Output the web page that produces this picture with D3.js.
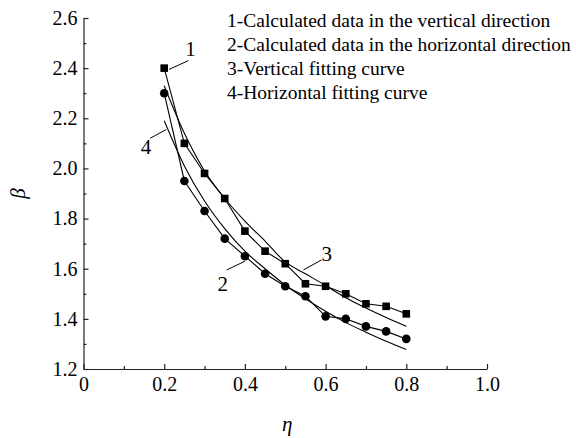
<!DOCTYPE html>
<html>
<head>
<meta charset="utf-8">
<script src="https://cdn.jsdelivr.net/npm/d3@7"></script>
<style>
  body { margin: 0; background: #fff; }
  text { font-family: "Liberation Serif", "Times New Roman", serif; fill: #000; }
</style>
</head>
<body>
<div id="chart"></div>
<script>
// eta values of the calculated points
var eta = [0.2, 0.25, 0.3, 0.35, 0.4, 0.45, 0.5, 0.55, 0.6, 0.65, 0.7, 0.75, 0.8];
// 1 - calculated data, vertical direction (squares)
var betaVertical = [2.40, 2.10, 1.98, 1.88, 1.75, 1.67, 1.62, 1.54, 1.53, 1.50, 1.46, 1.45, 1.42];
// 2 - calculated data, horizontal direction (circles)
var betaHorizontal = [2.30, 1.95, 1.83, 1.72, 1.65, 1.58, 1.53, 1.49, 1.41, 1.40, 1.37, 1.35, 1.32];
// 3 - vertical fitting curve
var fitVertical = [2.33, 2.14, 1.99, 1.88, 1.79, 1.71, 1.627, 1.58, 1.533, 1.484, 1.443, 1.405, 1.37];
// 4 - horizontal fitting curve
var fitHorizontal = [2.19, 2.01, 1.87, 1.76, 1.67, 1.60, 1.535, 1.48, 1.43, 1.385, 1.347, 1.311, 1.278];

var xTicks = [0, 0.2, 0.4, 0.6, 0.8, 1.0];
var xTickLabels = ["0", "0.2", "0.4", "0.6", "0.8", "1.0"];
var yTicks = [1.2, 1.4, 1.6, 1.8, 2.0, 2.2, 2.4, 2.6];
var yTickLabels = ["1.2", "1.4", "1.6", "1.8", "2.0", "2.2", "2.4", "2.6"];

var legendLines = [
  "1-Calculated data in the vertical direction",
  "2-Calculated data in the horizontal direction",
  "3-Vertical fitting curve",
  "4-Horizontal fitting curve"
];

var margin = {top: 18, right: 89, bottom: 69, left: 83.5},
    width = 576 - margin.left - margin.right,
    height = 438 - margin.top - margin.bottom;

var svg = d3.select("#chart")
  .append("svg")
    .attr("width", 576)
    .attr("height", 438)
  .append("g")
    .attr("transform", "translate(" + margin.left + "," + margin.top + ")");

var x = d3.scaleLinear().domain([0, 1.0]).range([0, width]);
var y = d3.scaleLinear().domain([1.2, 2.6]).range([height, 0]);

// minor ticks
svg.append("g")
  .attr("transform", "translate(0," + height + ")")
  .call(d3.axisBottom(x).tickValues([0.1, 0.3, 0.5, 0.7, 0.9]).tickSize(-3).tickFormat(""))
  .call(function(g) { g.select(".domain").remove(); });
svg.append("g")
  .call(d3.axisLeft(y).tickValues([1.3, 1.5, 1.7, 1.9, 2.1, 2.3, 2.5]).tickSize(-3).tickFormat(""))
  .call(function(g) { g.select(".domain").remove(); });

// major axes
svg.append("g")
  .attr("transform", "translate(0," + height + ")")
  .call(d3.axisBottom(x).tickValues(xTicks).tickSize(-5).tickSizeOuter(0).tickPadding(8)
    .tickFormat(function(d, i) { return xTickLabels[i]; }));
svg.append("g")
  .call(d3.axisLeft(y).tickValues(yTicks).tickSize(-5).tickSizeOuter(0).tickPadding(6)
    .tickFormat(function(d, i) { return yTickLabels[i]; }));

svg.selectAll(".tick text").style("font-size", "20px");
svg.selectAll(".domain, .tick line").attr("stroke", "#222").attr("stroke-width", 1.2);

// axis titles
svg.append("text")
  .attr("x", width / 2 + 2)
  .attr("y", height + 62)
  .attr("text-anchor", "middle")
  .style("font-size", "21px")
  .style("font-style", "italic")
  .text("η");
svg.append("text")
  .attr("transform", "translate(" + (-59) + "," + (height / 2) + ") rotate(-90)")
  .attr("text-anchor", "middle")
  .style("font-size", "21px")
  .style("font-style", "italic")
  .text("β");

var dataV = eta.map(function(e, i) { return [e, betaVertical[i]]; });
var dataH = eta.map(function(e, i) { return [e, betaHorizontal[i]]; });
var curveV = eta.map(function(e, i) { return [e, fitVertical[i]]; });
var curveH = eta.map(function(e, i) { return [e, fitHorizontal[i]]; });

var straight = d3.line()
  .x(function(d) { return x(d[0]); })
  .y(function(d) { return y(d[1]); });
var smooth = d3.line()
  .x(function(d) { return x(d[0]); })
  .y(function(d) { return y(d[1]); })
  .curve(d3.curveMonotoneX);

[curveV, curveH].forEach(function(c) {
  svg.append("path")
    .attr("d", smooth(c))
    .attr("fill", "none")
    .attr("stroke", "#000")
    .attr("stroke-width", 1.1);
});
[dataV, dataH].forEach(function(c) {
  svg.append("path")
    .attr("d", straight(c))
    .attr("fill", "none")
    .attr("stroke", "#000")
    .attr("stroke-width", 1.1);
});

svg.append("g")
  .selectAll("rect")
  .data(dataV)
  .enter()
  .append("rect")
    .attr("x", function(d) { return x(d[0]) - 3.8; })
    .attr("y", function(d) { return y(d[1]) - 3.8; })
    .attr("width", 7.6)
    .attr("height", 7.6)
    .style("fill", "#000");

svg.append("g")
  .selectAll("circle")
  .data(dataH)
  .enter()
  .append("circle")
    .attr("cx", function(d) { return x(d[0]); })
    .attr("cy", function(d) { return y(d[1]); })
    .attr("r", 4.3)
    .style("fill", "#000");

// numbered callouts: label position and pointer, in data units
var callouts = [
  {label: "1", tx: 0.265, ty: 2.45, from: [0.26, 2.43], to: [0.212, 2.395]},
  {label: "2", tx: 0.345, ty: 1.51, from: [0.355, 1.595], to: [0.4, 1.63]},
  {label: "3", tx: 0.603, ty: 1.63, from: [0.59, 1.635], to: [0.545, 1.595]},
  {label: "4", tx: 0.155, ty: 2.056, from: [0.165, 2.12], to: [0.205, 2.155]}
];
callouts.forEach(function(c) {
  svg.append("line")
    .attr("x1", x(c.from[0])).attr("y1", y(c.from[1]))
    .attr("x2", x(c.to[0])).attr("y2", y(c.to[1]))
    .attr("stroke", "#000").attr("stroke-width", 1);
  svg.append("text")
    .attr("x", x(c.tx))
    .attr("y", y(c.ty))
    .attr("text-anchor", "middle")
    .style("font-size", "21px")
    .text(c.label);
});

// legend text
svg.append("g")
  .selectAll("text")
  .data(legendLines)
  .enter()
  .append("text")
    .attr("x", 143.5)
    .attr("y", function(d, i) { return 9 + i * 24; })
    .style("font-size", "19.5px")
    .text(function(d) { return d; });
</script>
</body>
</html>
